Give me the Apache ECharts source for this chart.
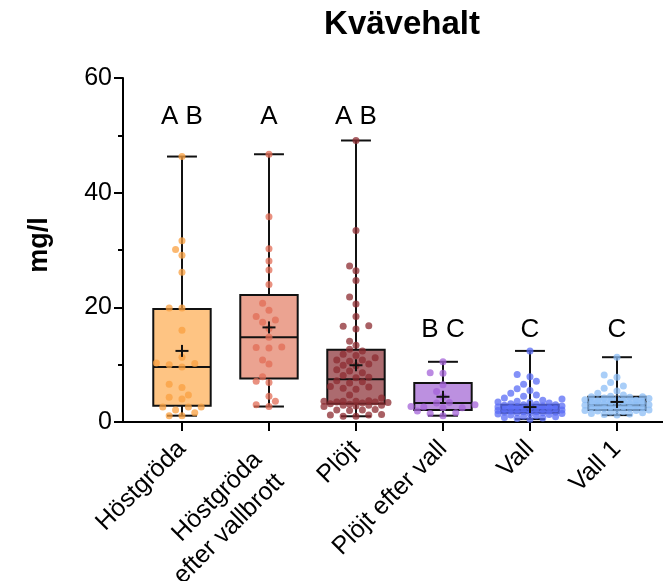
<!DOCTYPE html>
<html>
<head>
<meta charset="utf-8">
<script src="https://cdn.jsdelivr.net/npm/echarts@6/dist/echarts.min.js"></script>
<style>
html,body{margin:0;padding:0;background:#fff;}
#chart{width:663px;height:581px;}
</style>
</head>
<body>
<div id="chart"></div>
<script>
// ---------- data ----------
const categories = ['Höstgröda', 'Höstgröda\nefter vallbrott', 'Plöjt', 'Plöjt efter vall', 'Vall', 'Vall 1'];
const boxMin    = [1.1, 2.7, 1.0, 1.1, 0.5, 1.2];
const boxQ1     = [2.85, 7.6, 3.2, 2.1, 1.6, 2.1];
const boxMedian = [9.6, 14.8, 7.45, 3.3, 2.1, 2.9];
const boxQ3     = [19.7, 22.15, 12.6, 6.8, 3.0, 4.4];
const boxMax    = [46.3, 46.7, 49.1, 10.5, 12.4, 11.3];
const boxMean   = [12.4, 16.5, 9.9, 4.4, 2.6, 3.5];
const pointsHostgroda = [46.3, 31.6, 30.1, 29.1, 26.1, 19.9, 19.9, 16.0, 11.3, 10.2, 10.3, 9.6, 10.0, 6.0, 6.6, 4.7, 4.0, 4.3, 2.6, 2.6, 2.6, 1.6, 2.1, 1.1, 1.1];
const pointsHostgrodaVall = [46.7, 35.8, 30.2, 28.1, 26.5, 24.0, 20.7, 19.5, 18.4, 17.8, 17.4, 16.3, 14.8, 13.1, 12.9, 13.0, 10.8, 10.1, 7.9, 7.1, 6.9, 4.5, 3.6, 3.0, 2.7];
const pointsPlojt = [49.1, 33.4, 27.2, 26.4, 24.7, 21.8, 20.6, 18.4, 16.8, 16.7, 16.2, 14.1, 13.4,
  12.7, 12.4, 11.8, 11.6, 11.2, 10.8, 10.8, 10.6, 10.1, 9.9, 9.8, 9.1, 8.9, 8.6, 8.1, 7.8, 7.7, 7.2, 7.0, 6.8, 6.2, 6.1, 5.9, 5.7, 4.7, 4.2, 3.7, 3.6, 3.6, 3.5, 3.4, 3.5, 3.6, 3.3, 3.2,
  3.1, 2.9, 2.9, 2.8, 2.9, 2.7, 2.1, 2.1, 2.0, 2.2, 1.3, 1.2, 1.2, 1.0, 1.0];
const pointsPlojtVall = [10.5, 8.6, 8.5, 6.5, 5.3, 4.4, 3.4, 3.3, 3.0, 2.6, 2.5, 2.5, 2.7, 1.9, 1.6, 1.5, 1.1];
const pointsVall = [12.4, 8.3, 7.9, 7.1, 6.6, 5.8, 5.5, 5.0, 4.7, 4.5, 4.2, 4.0, 3.8, 3.6, 3.5, 3.4, 3.3, 3.2, 3.1, 3.0, 3.0, 2.9, 2.8, 2.8, 2.7, 2.6, 2.6, 2.5, 2.5, 2.4, 2.3, 2.3, 2.2, 2.2, 2.1, 2.1, 2.0, 2.0, 1.9, 1.9, 1.8, 1.8, 1.7, 1.7, 1.6, 1.6, 1.5, 1.5, 1.4, 1.3, 1.2, 1.1, 1.0, 0.9, 0.8, 0.7, 0.6, 0.5];
const pointsVall1 = [11.3, 8.2, 7.8, 6.9, 6.3, 5.9, 5.4, 5.0, 4.7, 4.5, 4.4, 4.4, 4.3, 4.2, 4.1, 4.0, 3.9, 3.8, 3.7, 3.6, 3.5, 3.4, 3.3, 3.2, 3.1, 3.0, 3.0, 2.9, 2.9, 2.8, 2.7, 2.6, 2.5, 2.5, 2.4, 2.3, 2.2, 2.1, 2.0, 2.0, 1.9, 1.8, 1.7, 1.6, 1.5, 1.4, 1.3, 1.2];
const groupLetters = ['A B', 'A', 'A B', 'B C', 'C', 'C'];
const letterLevel = [53.2, 53.2, 53.2, 16.0, 16.0, 16.0];
const yTickValues = [0, 20, 40, 60];

// ---------- styles ----------
const FONT = "'Liberation Sans', Arial, sans-serif";
const boxFill = ['#FEC483', '#EBA391', '#AC6B6F', '#BC90E0', '#7383F2', '#ABCDF7'];
const dotColor = ['#F9A040', '#E26C56', '#8C2B30', '#A463D8', '#5A6CF5', '#8CBEF6'];

const allPoints = [pointsHostgroda, pointsHostgrodaVall, pointsPlojt, pointsPlojtVall, pointsVall, pointsVall1];
const catIdx = categories.map((c, i) => i);
const singleLineIdx = catIdx.filter(i => categories[i].indexOf('\n') < 0);
const multiLineIdx = catIdx.filter(i => categories[i].indexOf('\n') >= 0);

// beeswarm layout computed from the axis scale
const swarmCache = {};
function getSwarm(c, api) {
  const y0 = api.coord([c, 0])[1], y1 = api.coord([c, 60])[1];
  const key = c + '_' + y0 + '_' + y1;
  if (swarmCache[key]) return swarmCache[key];
  const vals = allPoints[c];
  const ys = vals.map(v => api.coord([c, v])[1]);
  const order = vals.map((v, i) => i).sort((a, b) => vals[a] - vals[b]);
  const step = 6.4, D = 7.4, kMax = 5;
  const placed = [];
  const offs = new Array(vals.length).fill(0);
  const cands = [0];
  for (let k = 1; k <= kMax; k++) { cands.push(-k * step, k * step); }
  order.forEach(i => {
    let best = null, bestD = -1;
    for (const dx of cands) {
      let md = Infinity;
      for (const p of placed) {
        const d = Math.hypot(p[0] - dx, p[1] - ys[i]);
        if (d < md) md = d;
      }
      if (md >= D) { best = dx; bestD = md; break; }
      if (md > bestD + 0.5) { bestD = md; best = dx; }
    }
    offs[i] = best;
    placed.push([best, ys[i]]);
  });
  swarmCache[key] = offs;
  return offs;
}

const boxData = categories.map((c, i) => [i, boxMin[i], boxQ1[i], boxMedian[i], boxQ3[i], boxMax[i]]);
const meanData = categories.map((c, i) => [i, boxMean[i]]);
const dotData = [];
allPoints.forEach((arr, c) => arr.forEach((v, j) => dotData.push([c, v, j])));
const letterData = categories.map((c, i) => [i, letterLevel[i]]);

const labelStyle = { rotate: 45, color: '#000', fontFamily: FONT, fontSize: 25, lineHeight: 31,
  showMinLabel: true, showMaxLabel: true, formatter: v => categories[Math.round(v)] };

const chart = echarts.init(document.getElementById('chart'));
const option = {
  animation: false,
  backgroundColor: '#fff',
  title: {
    text: 'Kvävehalt',
    left: 397, top: 3, textAlign: 'center',
    textStyle: { fontFamily: FONT, fontWeight: 'bold', fontSize: 33, color: '#000' }
  },
  grid: { left: 123, right: 0, top: 78, bottom: 159,
    outerBounds: { left: -100, right: -100, top: -100, bottom: -100 } },
  xAxis: [
    {
      type: 'value', min: -0.678, max: 5.529, position: 'bottom',
      splitLine: { show: false },
      axisLine: { show: true, onZero: false, lineStyle: { color: '#000', width: 2 } },
      axisTick: { show: true, customValues: catIdx, length: 9, lineStyle: { color: '#000', width: 2 } },
      axisLabel: Object.assign({ customValues: singleLineIdx, margin: 23 }, labelStyle)
    },
    {
      type: 'value', min: -0.678, max: 5.529, position: 'bottom',
      splitLine: { show: false },
      axisLine: { show: false, onZero: false },
      axisTick: { show: false },
      axisLabel: Object.assign({ customValues: multiLineIdx, margin: 45 }, labelStyle)
    }
  ],
  yAxis: {
    type: 'value', min: 0, max: 60, interval: 20,
    name: 'mg/l', nameLocation: 'middle', nameRotate: 90, nameGap: 70,
    nameTextStyle: { fontFamily: FONT, fontWeight: 'bold', fontSize: 27, color: '#000', padding: [0, 0, 0, 10] },
    splitLine: { show: false },
    axisLine: { show: true, onZero: false, lineStyle: { color: '#000', width: 2 } },
    axisTick: { show: true, length: 9, lineStyle: { color: '#000', width: 2 } },
    minorTick: { show: true, splitNumber: 2, length: 5, lineStyle: { color: '#000', width: 2 } },
    axisLabel: { color: '#000', fontFamily: FONT, fontSize: 25, margin: 11,
      formatter: v => yTickValues.indexOf(v) >= 0 ? String(v) : '' }
  },
  series: [
    {
      type: 'custom', name: 'box', data: boxData, encode: { x: 0, y: [1, 2, 3, 4, 5] }, z: 2,
      renderItem: function (params, api) {
        const i = api.value(0);
        const w = api.size([1, 0])[0];
        const hw = w * 0.33, cw = w * 0.172;
        const x = api.coord([i, 0])[0];
        const yMin = api.coord([i, api.value(1)])[1];
        const yQ1 = api.coord([i, api.value(2)])[1];
        const yMed = api.coord([i, api.value(3)])[1];
        const yQ3 = api.coord([i, api.value(4)])[1];
        const yMax = api.coord([i, api.value(5)])[1];
        const ls = { stroke: '#111', lineWidth: 2 };
        return {
          type: 'group',
          children: [
            { type: 'line', shape: { x1: x, y1: yQ3, x2: x, y2: yMax }, style: ls },
            { type: 'line', shape: { x1: x, y1: yQ1, x2: x, y2: yMin }, style: ls },
            { type: 'line', shape: { x1: x - cw, y1: yMax, x2: x + cw, y2: yMax }, style: ls },
            { type: 'line', shape: { x1: x - cw, y1: yMin, x2: x + cw, y2: yMin }, style: ls },
            { type: 'rect', shape: { x: x - hw, y: yQ3, width: 2 * hw, height: yQ1 - yQ3 },
              style: { fill: boxFill[i], stroke: '#111', lineWidth: 2 } },
            { type: 'line', shape: { x1: x - hw, y1: yMed, x2: x + hw, y2: yMed }, style: ls }
          ]
        };
      }
    },
    {
      type: 'custom', name: 'points', data: dotData, encode: { x: 0, y: 1 }, z: 3,
      renderItem: function (params, api) {
        const c = api.value(0), v = api.value(1), j = api.value(2);
        const offs = getSwarm(c, api);
        const p = api.coord([c, v]);
        return { type: 'circle', shape: { cx: p[0] + offs[j], cy: p[1], r: 3.5 },
          style: { fill: dotColor[c], opacity: 0.75 } };
      }
    },
    {
      type: 'custom', name: 'mean', data: meanData, encode: { x: 0, y: 1 }, z: 4,
      renderItem: function (params, api) {
        const p = api.coord([api.value(0), api.value(1)]);
        const ls = { stroke: '#111', lineWidth: 2 };
        return { type: 'group', children: [
          { type: 'line', shape: { x1: p[0] - 6.5, y1: p[1], x2: p[0] + 6.5, y2: p[1] }, style: ls },
          { type: 'line', shape: { x1: p[0], y1: p[1] - 6, x2: p[0], y2: p[1] + 6 }, style: ls }
        ] };
      }
    },
    {
      type: 'custom', name: 'letters', data: letterData, encode: { x: 0, y: 1 }, z: 5,
      renderItem: function (params, api) {
        const i = api.value(0);
        const p = api.coord([i, api.value(1)]);
        return { type: 'text', x: p[0], y: p[1],
          style: { text: groupLetters[i], fill: '#000', font: '26px ' + FONT, align: 'center', verticalAlign: 'middle' } };
      }
    }
  ]
};
chart.setOption(option);
</script>
</body>
</html>
